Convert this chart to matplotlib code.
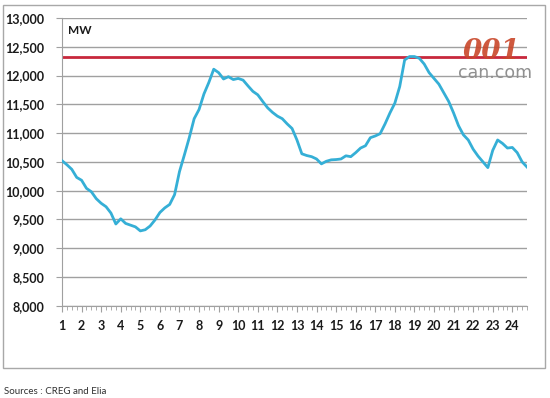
import numpy as np
import matplotlib.pyplot as plt
from matplotlib.patches import Rectangle

# load in MW, one value per quarter hour (96 points)
load = [10520, 10450, 10370, 10230, 10180, 10040, 9980, 9860,
        9780, 9720, 9610, 9420, 9510, 9430, 9400, 9370,
        9300, 9320, 9385, 9490, 9620, 9700, 9760, 9930,
        10330, 10620, 10920, 11250, 11410, 11680, 11880, 12110,
        12050, 11940, 11980, 11930, 11950, 11920, 11820, 11725,
        11665, 11550, 11440, 11360, 11295, 11250, 11160, 11080,
        10880, 10640, 10610, 10590, 10550, 10465, 10510, 10535,
        10540, 10550, 10605, 10590, 10660, 10740, 10780, 10920,
        10950, 10990, 11160, 11350, 11520, 11810, 12270, 12330,
        12330, 12300, 12200, 12050, 11950, 11850, 11700, 11550,
        11350, 11130, 10970, 10880, 10720, 10600, 10500, 10400,
        10700, 10880, 10820, 10740, 10750, 10660, 10500, 10410]
peak = 12330
hours = [str(h) for h in range(1, 25)]
yticks = list(range(8000, 13001, 500))

#draw figure
fig = plt.figure(figsize=(5.5, 3.98), dpi=100)
fig.patch.set_facecolor('white')
fig.patches.append(Rectangle((3/550, 1-368/398), 542/550, 363/398, transform=fig.transFigure,
                             fill=False, edgecolor='#a8a8a8', linewidth=1))
ax = fig.add_axes([62/550, 1-305.7/398, 465/550, 287.7/398])

x = np.arange(len(load))
ax.plot(x, load, color='#35afd6', linewidth=2, zorder=3)
ax.plot([0, len(load)-1], [peak, peak], color='#c8283c', linewidth=2, zorder=2)

ax.set_xlim(0, len(load)-1)
ax.set_ylim(8000, 13000)
ax.set_yticks(yticks)
ax.set_yticklabels(['{:,}'.format(v) for v in yticks])
ax.set_xticks(np.arange(0, 96, 4))
ax.set_xticklabels(hours)
ax.set_xticks(np.arange(0, 96), minor=True)
ax.yaxis.grid(True, color='#a0a0a0', linewidth=1)
ax.set_axisbelow(True)
for s in ['top', 'right']:
    ax.spines[s].set_visible(False)
for s in ['left', 'bottom']:
    ax.spines[s].set_color('#a0a0a0')
ax.tick_params(axis='y', length=4, color='#a0a0a0', pad=9, labelsize=9)
ax.tick_params(axis='x', which='major', length=4, color='#a0a0a0', pad=6, labelsize=9)
ax.tick_params(axis='x', which='minor', length=3, color='#a0a0a0')
for lab in ax.get_xticklabels() + ax.get_yticklabels():
    lab.set_fontweight('bold')
    lab.set_family('Lato')
    lab.set_color('#1a1a1a')

ax.text(0.013, 0.975, 'MW', transform=ax.transAxes, ha='left', va='top',
        fontsize=8.5, fontweight='bold', family='Lato', color='#1a1a1a')

# watermark
fig.text(463/550, 1-59/398, '001', fontsize=20, fontweight='bold', style='italic',
         family='DejaVu Serif', color='#c9472a', ha='left', va='baseline', alpha=0.9)
fig.text(458/550, 1-78/398, 'can.com', fontsize=12.5, family='DejaVu Sans',
         color='#909090', ha='left', va='baseline')

fig.text(4/550, 1-391/398, 'Sources : CREG and Elia', fontsize=7, family='Lato',
         color='#303030', ha='left', va='center')

plt.savefig('out.png', dpi=100)
